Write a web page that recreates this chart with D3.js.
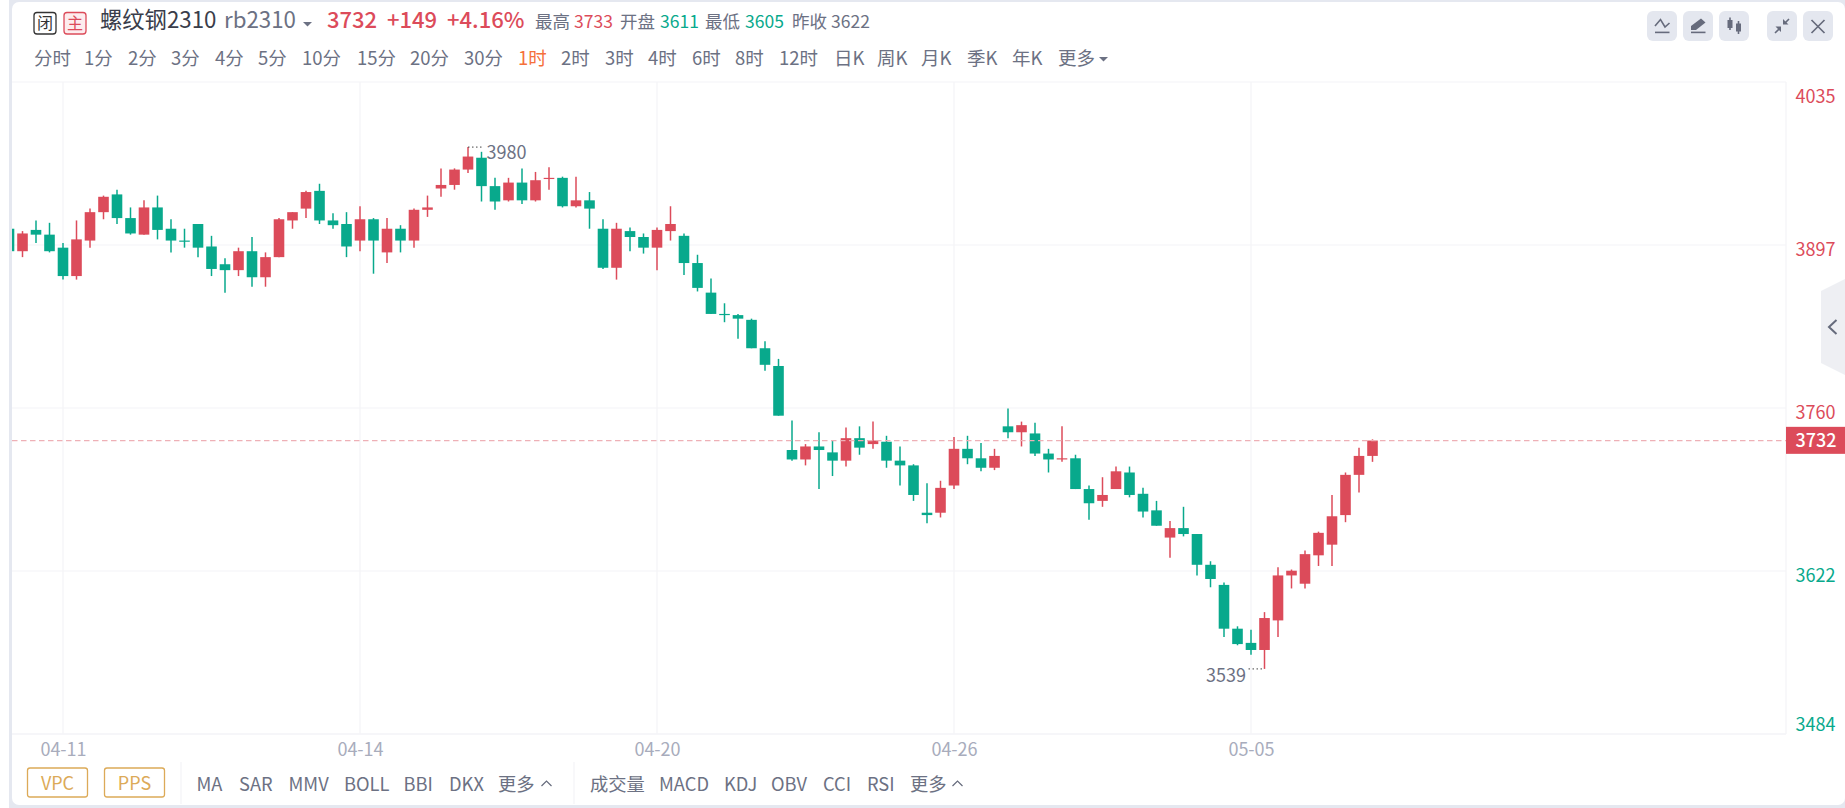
<!DOCTYPE html>
<html lang="zh-CN">
<head>
<meta charset="utf-8">
<title>rb2310</title>
<script src="https://cdnjs.cloudflare.com/ajax/libs/d3/7.8.5/d3.min.js"></script>
<style>
  html, body { margin: 0; padding: 0; background: #fff; overflow: hidden; }
  svg { display: block; }
  text { font-family: "Noto Sans CJK SC", "Noto Sans", sans-serif; }
</style>
</head>
<body>
<div id="chart"></div>
<script>
const opens = [
  3911, 3892, 3910, 3906, 3895, 3871, 3901, 3925, 3940, 3920,
  3906, 3929, 3911, 3901, 3915, 3896, 3881, 3876, 3892, 3870,
  3887, 3918, 3928, 3943, 3918, 3915, 3901, 3919, 3891, 3911,
  3901, 3927, 3945, 3948, 3961, 3971, 3947, 3935, 3950, 3935,
  3953, 3954, 3930, 3935, 3911, 3878, 3909, 3904, 3895, 3909,
  3905, 3882, 3857, 3839, 3838, 3834, 3810, 3795, 3724, 3716,
  3727, 3722, 3715, 3734, 3729, 3731, 3715, 3711, 3671, 3671,
  3694, 3725, 3717, 3709, 3744, 3739, 3738, 3721, 3716, 3717,
  3691, 3681, 3691, 3705, 3687, 3673, 3650, 3658, 3653, 3627,
  3610, 3573, 3561, 3555, 3580, 3618, 3611, 3635, 3644, 3669,
  3703, 3719
];
const closes = [
  3892, 3907, 3906, 3892, 3871, 3902, 3925, 3938, 3920, 3907,
  3929, 3910, 3901, 3900, 3895, 3877, 3876, 3892, 3870, 3887,
  3919, 3925, 3942, 3918, 3914, 3896, 3919, 3901, 3911, 3901,
  3927, 3929, 3948, 3961, 3972, 3947, 3934, 3950, 3935, 3952,
  3954, 3930, 3935, 3928, 3878, 3911, 3904, 3895, 3910, 3915,
  3882, 3861, 3839, 3838, 3835, 3810, 3796, 3753, 3716, 3727,
  3724, 3715, 3734, 3726, 3732, 3715, 3711, 3686, 3669, 3692,
  3725, 3717, 3709, 3719, 3739, 3745, 3721, 3716, 3717, 3691,
  3679, 3686, 3706, 3686, 3672, 3660, 3658, 3653, 3627, 3615,
  3573, 3560, 3555, 3582, 3618, 3622, 3636, 3654, 3668, 3703,
  3719, 3732
];
const highs = [
  3911, 3909, 3918, 3916, 3899, 3918, 3928, 3939, 3944, 3929,
  3935, 3939, 3919, 3911, 3915, 3905, 3886, 3895, 3904, 3891,
  3920, 3925, 3943, 3949, 3924, 3925, 3930, 3920, 3920, 3914,
  3928, 3939, 3962, 3962, 3980, 3976, 3954, 3954, 3962, 3959,
  3963, 3955, 3955, 3942, 3919, 3916, 3912, 3907, 3912, 3930,
  3907, 3889, 3869, 3848, 3839, 3835, 3816, 3801, 3749, 3729,
  3739, 3732, 3743, 3744, 3748, 3736, 3727, 3712, 3696, 3698,
  3735, 3736, 3730, 3725, 3759, 3748, 3747, 3725, 3744, 3720,
  3694, 3701, 3710, 3710, 3692, 3681, 3664, 3676, 3653, 3630,
  3612, 3575, 3572, 3587, 3625, 3623, 3639, 3655, 3686, 3705,
  3726, 3733
];
const lows = [
  3892, 3887, 3899, 3891, 3868, 3868, 3895, 3919, 3915, 3906,
  3906, 3902, 3891, 3895, 3887, 3871, 3857, 3871, 3862, 3862,
  3887, 3911, 3920, 3915, 3911, 3887, 3892, 3873, 3882, 3891,
  3895, 3921, 3938, 3944, 3958, 3934, 3927, 3934, 3932, 3934,
  3944, 3929, 3929, 3911, 3877, 3868, 3892, 3890, 3876, 3901,
  3872, 3858, 3839, 3832, 3818, 3810, 3791, 3753, 3715, 3711,
  3691, 3702, 3710, 3720, 3725, 3709, 3694, 3681, 3662, 3667,
  3691, 3712, 3706, 3707, 3734, 3727, 3719, 3705, 3714, 3691,
  3665, 3676, 3691, 3684, 3667, 3660, 3633, 3651, 3618, 3608,
  3566, 3559, 3551, 3539, 3566, 3607, 3607, 3626, 3626, 3663,
  3688, 3714
];

const dateTickIndex = [4, 26, 48, 70, 92];
const dateTickLabels = ['04-11', '04-14', '04-20', '04-26', '05-05'];
const priceTicks = [3484, 3621.75, 3759.5, 3897.25, 4035];
const lastPrice = 3732;
const highPoint = {i: 34, price: 3980};
const lowPoint = {i: 93, price: 3539};

const periodLabels = ['分时', '1分', '2分', '3分', '4分', '5分', '10分', '15分', '20分', '30分', '1时', '2时', '3时', '4时', '6时', '8时', '12时', '日K', '周K', '月K', '季K', '年K', '更多'];
const periodX = [34, 84, 128, 171, 215, 258, 302, 357, 410, 464, 518, 561, 605, 648, 692, 735, 779, 834, 877, 921, 967, 1012, 1058];
const mainIndicators = ['MA', 'SAR', 'MMV', 'BOLL', 'BBI', 'DKX', '更多'];
const mainIndicatorX = [196.5, 239, 288.5, 344, 403.5, 449, 498];
const subIndicators = ['成交量', 'MACD', 'KDJ', 'OBV', 'CCI', 'RSI', '更多'];
const subIndicatorX = [590, 659, 724, 771, 823, 867, 910];

const width = 1845, height = 808;
const red = '#dc4b5a', green = '#08a98c', gridColor = '#f3f4f7', grey = '#6c7183';

const plot = {left: 12, right: 1786, top: 82, bottom: 734};

const svg = d3.select('#chart').append('svg')
    .attr('width', width)
    .attr('height', height);

// card
svg.append('rect').attr('x', 9).attr('y', 0).attr('width', width).attr('height', height).attr('fill', '#e5e8f0');
svg.append('rect').attr('x', 12).attr('y', 2).attr('width', width - 12).attr('height', 803).attr('rx', 7).attr('fill', '#fff');

const x = d3.scaleLinear().domain([4, 101]).range([63, 1372.5]);
const y = d3.scaleLinear().domain([3484, 4035]).range([plot.bottom, plot.top]);

svg.append('defs').append('clipPath').attr('id', 'plot-clip')
  .append('rect')
    .attr('x', plot.left).attr('y', plot.top)
    .attr('width', plot.right - plot.left).attr('height', plot.bottom - plot.top);

// grid
svg.append('g').selectAll('line').data(priceTicks).enter().append('line')
    .attr('x1', plot.left).attr('x2', plot.right)
    .attr('y1', d => y(d)).attr('y2', d => y(d))
    .attr('stroke', gridColor).attr('stroke-width', 1.2);
svg.append('g').selectAll('line').data(dateTickIndex).enter().append('line')
    .attr('x1', d => x(d)).attr('x2', d => x(d))
    .attr('y1', plot.top).attr('y2', plot.bottom)
    .attr('stroke', gridColor).attr('stroke-width', 1.2);
svg.append('line').attr('x1', plot.right).attr('x2', plot.right)
    .attr('y1', plot.top).attr('y2', plot.bottom)
    .attr('stroke', gridColor).attr('stroke-width', 1.2);

// candles
const candles = d3.range(opens.length);
const color = i => closes[i] >= opens[i] ? red : green;
const area = svg.append('g').attr('clip-path', 'url(#plot-clip)');
area.selectAll('.wick').data(candles).enter().append('line')
    .attr('class', 'wick')
    .attr('x1', i => x(i)).attr('x2', i => x(i))
    .attr('y1', i => y(highs[i])).attr('y2', i => y(lows[i]))
    .attr('stroke', color).attr('stroke-width', 1.5);
area.selectAll('.body').data(candles).enter().append('rect')
    .attr('class', 'body')
    .attr('x', i => x(i) - 5.3)
    .attr('width', 10.6)
    .attr('y', i => y(Math.max(opens[i], closes[i])))
    .attr('height', i => Math.abs(y(opens[i]) - y(closes[i])))
    .attr('fill', color);

// last price line
svg.append('line')
    .attr('x1', plot.left).attr('x2', plot.right)
    .attr('y1', y(lastPrice)).attr('y2', y(lastPrice))
    .attr('stroke', '#eeb0b6').attr('stroke-width', 1.2).attr('stroke-dasharray', '5.5,3.5');

// price axis
const yAxis = svg.append('g')
    .attr('transform', `translate(${plot.right},0)`)
    .call(d3.axisRight(y).tickValues(priceTicks).tickFormat(d3.format('.0f')).tickSize(0).tickPadding(9.5));
yAxis.select('.domain').remove();
yAxis.selectAll('text')
    .attr('font-family', '"Noto Sans CJK SC"').attr('font-size', 18)
    .attr('fill', d => d > 3700 ? red : green)
    .attr('dy', d => d === 4035 ? '1.14em' : d === 3484 ? '-0.17em' : '0.6em');

svg.append('rect').attr('x', plot.right).attr('y', y(lastPrice) - 13.7).attr('width', width - plot.right).attr('height', 27).attr('fill', red);
svg.append('text').attr('x', plot.right + 9.5).attr('y', y(lastPrice)).attr('dy', '0.36em')
    .attr('font-size', 18).attr('font-weight', 500).attr('fill', '#fff').text(lastPrice);

// date axis
const xAxis = svg.append('g')
    .attr('transform', `translate(0,${plot.bottom})`)
    .call(d3.axisBottom(x).tickValues(dateTickIndex).tickFormat((d, i) => dateTickLabels[i]).tickSize(0).tickPadding(9));
xAxis.select('.domain').attr('d', `M${plot.left},0H${plot.right}`).attr('stroke', gridColor).attr('stroke-width', 1.2);
xAxis.selectAll('text').attr('font-family', '"Noto Sans CJK SC"').attr('font-size', 18).attr('fill', '#a8acbc');

// high and low marks
svg.append('line').attr('x1', x(highPoint.i)).attr('x2', x(highPoint.i) + 15)
    .attr('y1', y(highPoint.price)).attr('y2', y(highPoint.price))
    .attr('stroke', '#444').attr('stroke-dasharray', '1.5,2.5');
svg.append('text').attr('x', x(highPoint.i) + 18.5).attr('y', y(highPoint.price) + 5).attr('dy', '0.36em')
    .attr('font-size', 18).attr('fill', grey).text(highPoint.price);
svg.append('line').attr('x1', x(lowPoint.i) - 16).attr('x2', x(lowPoint.i))
    .attr('y1', y(lowPoint.price)).attr('y2', y(lowPoint.price))
    .attr('stroke', '#444').attr('stroke-dasharray', '1.5,2.5');
svg.append('text').attr('x', x(lowPoint.i) - 18.5).attr('y', y(lowPoint.price) + 7).attr('dy', '0.36em')
    .attr('text-anchor', 'end')
    .attr('font-size', 18).attr('fill', grey).text(lowPoint.price);

// header
const label = (px, py, str, size, fill, weight) => svg.append('text')
    .attr('x', px).attr('y', py).attr('dy', '0.36em')
    .attr('font-size', size).attr('fill', fill).attr('font-weight', weight || 400)
    .text(str);

svg.append('rect').attr('x', 34).attr('y', 12.5).attr('width', 22).attr('height', 21.5).attr('rx', 3)
    .attr('fill', '#fff').attr('stroke', '#333').attr('stroke-width', 1.3);
label(37, 23, '闭', 16, '#333');
svg.append('rect').attr('x', 64).attr('y', 12.5).attr('width', 22).attr('height', 21.5).attr('rx', 3)
    .attr('fill', '#fdecee').attr('stroke', red).attr('stroke-width', 1.3);
label(67, 23, '主', 16, red);

label(100, 20, '螺纹钢2310', 22.3, '#3a3d4a');
label(224, 20, 'rb2310', 22.3, grey);
svg.append('path').attr('d', 'M303,22h9l-4.5,4.5z').attr('fill', grey);
label(327, 20, '3732', 22, red, 500);
label(387, 20, '+149', 22, red, 500);
label(447, 20, '+4.16%', 22, red, 500);
label(535, 21.5, '最高', 17.5, grey);
label(574, 21.5, '3733', 17.5, red);
label(620, 21.5, '开盘', 17.5, grey);
label(660, 21.5, '3611', 17.5, green);
label(705, 21.5, '最低', 17.5, grey);
label(745, 21.5, '3605', 17.5, green);
label(792, 21.5, '昨收', 17.5, grey);
label(831, 21.5, '3622', 17.5, grey);

svg.append('g').selectAll('text').data(periodLabels).enter().append('text')
    .attr('x', (d, i) => periodX[i]).attr('y', 58.5).attr('dy', '0.36em')
    .attr('font-size', 18.5)
    .attr('fill', d => d === '1时' ? '#f5703c' : grey)
    .text(d => d);
svg.append('path').attr('d', 'M1099,57h9l-4.5,4.5z').attr('fill', grey);

// toolbar buttons
[1647, 1683, 1719, 1767, 1803].forEach(bx => {
  svg.append('rect').attr('x', bx).attr('y', 11).attr('width', 30).attr('height', 30).attr('rx', 6).attr('fill', '#e4e7ef');
});
const iconColor = '#666b7c';
const stroke = (d, w) => svg.append('path').attr('d', d).attr('fill', 'none').attr('stroke', iconColor).attr('stroke-width', w || 1.6);
stroke('M1655,26L1660.5,19.5L1665,27L1669.5,23');
stroke('M1655,32.4H1669.5');
stroke('M1691,32.4H1705.5');
svg.append('path').attr('d', 'M1691,30V26L1701,18.5L1705.5,22.5L1696,30Z').attr('fill', iconColor);
stroke('M1730,17.5V30');
svg.append('rect').attr('x', 1727.5).attr('y', 20).attr('width', 5).attr('height', 8).attr('fill', iconColor);
stroke('M1738.5,21V34');
svg.append('rect').attr('x', 1736).attr('y', 23.5).attr('width', 5).attr('height', 8).attr('fill', iconColor);
stroke('M1775,33L1780,28M1784.5,23.5L1789,19');
svg.append('path').attr('d', 'M1775.5,26.5L1781,26.5V32Z M1783,24.5V19L1788.5,24.5Z').attr('fill', iconColor);
stroke('M1811.5,20L1824.5,33M1824.5,20L1811.5,33', 1.7);

// side handle
svg.append('path').attr('d', 'M1845,279L1821,291V363L1845,375Z').attr('fill', '#eeeff3');
stroke('M1836.5,320L1829,327L1836.5,334', 2);

// footer
svg.append('rect').attr('x', 27.5).attr('y', 768).attr('width', 60).attr('height', 29).attr('rx', 2.5)
    .attr('fill', 'none').attr('stroke', '#dcaa58').attr('stroke-width', 1.3);
svg.append('rect').attr('x', 104.5).attr('y', 768).attr('width', 60).attr('height', 29).attr('rx', 2.5)
    .attr('fill', 'none').attr('stroke', '#dcaa58').attr('stroke-width', 1.3);
label(57.5, 784, 'VPC', 18, '#dcaa58').attr('text-anchor', 'middle');
label(134.5, 784, 'PPS', 18, '#dcaa58').attr('text-anchor', 'middle');
[181, 574].forEach(sx => {
  svg.append('line').attr('x1', sx).attr('x2', sx).attr('y1', 762).attr('y2', 804)
      .attr('stroke', gridColor).attr('stroke-width', 1.2);
});
const footerRow = (labels, xs) => svg.append('g').selectAll('text').data(labels).enter().append('text')
    .attr('x', (d, i) => xs[i]).attr('y', 784).attr('dy', '0.36em')
    .attr('font-size', 18.3).attr('fill', grey).text(d => d);
footerRow(mainIndicators, mainIndicatorX);
footerRow(subIndicators, subIndicatorX);
stroke('M541.5,786L546.5,781L551.5,786', 1.2);
stroke('M952.5,786L957.5,781L962.5,786', 1.2);
</script>
</body>
</html>
